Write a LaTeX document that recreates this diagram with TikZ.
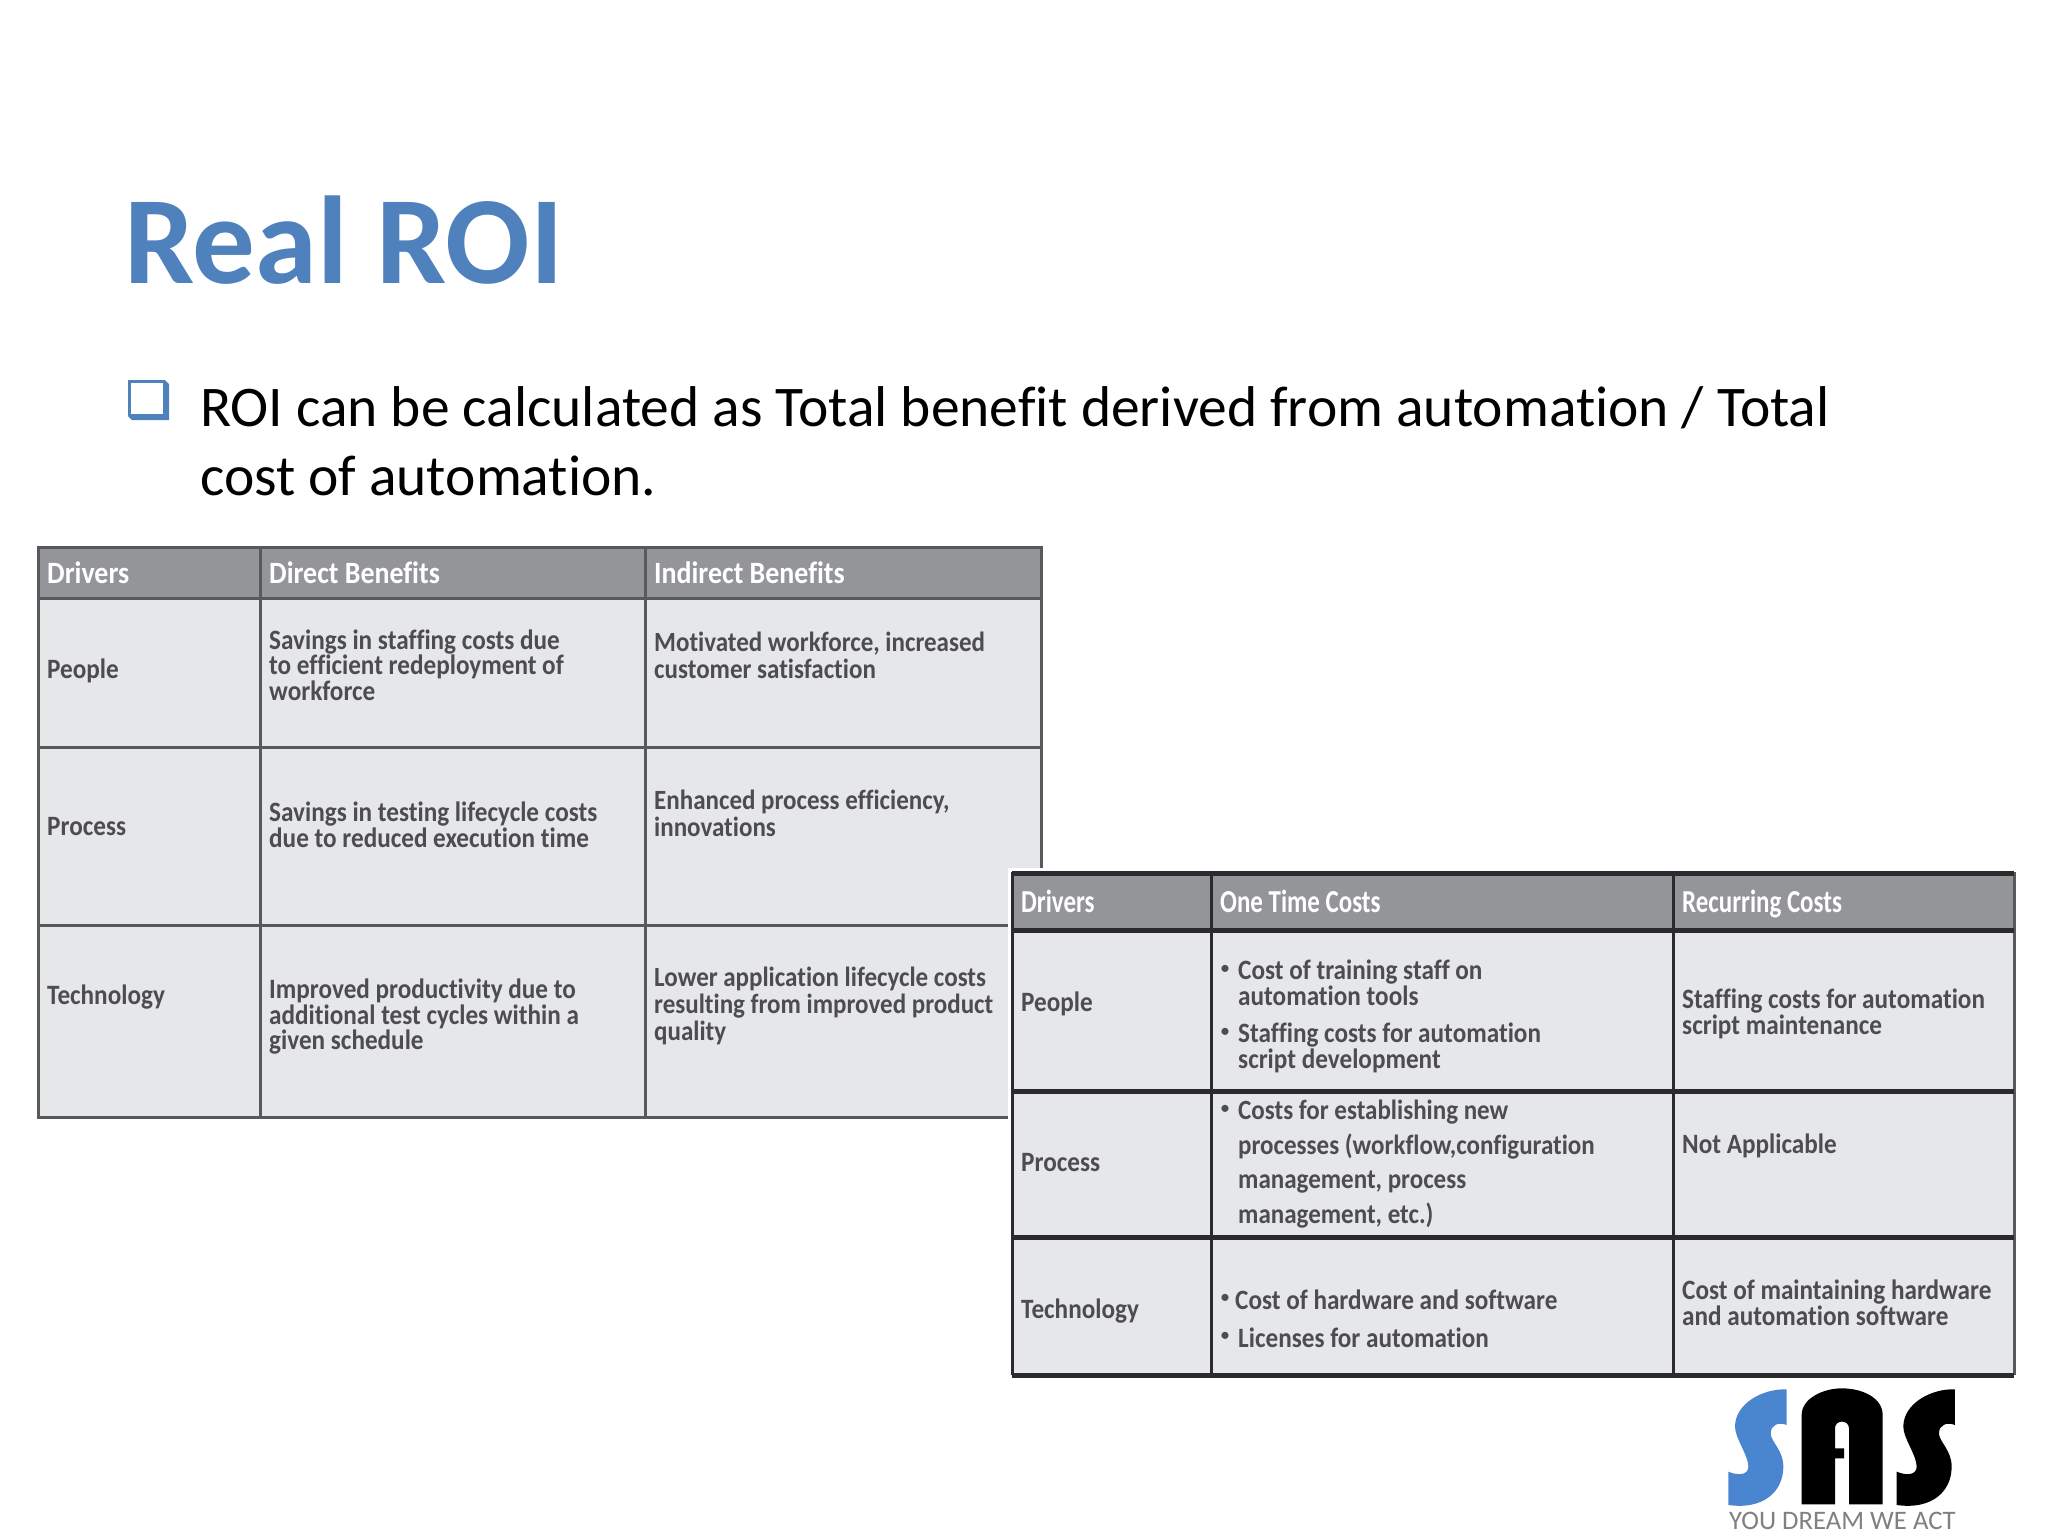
\documentclass[tikz,border=0pt]{standalone}
\usepackage{fontspec}
\setmainfont[RawFeature=-liga]{Carlito}
\newfontfamily\tabfont[FakeStretch=0.9,RawFeature=-liga]{Carlito}
\newfontfamily\tabnarrow[FakeStretch=0.78,RawFeature=-liga]{Carlito}
\definecolor{roiblue}{HTML}{4F81BD}
\definecolor{logoblue}{HTML}{4A86D0}
\definecolor{hdrfill}{HTML}{939598}
\definecolor{cellfill}{HTML}{E6E7E8}
\definecolor{celltext}{HTML}{4D4D4F}
\definecolor{gridone}{HTML}{58595B}
\definecolor{gridtwo}{HTML}{2B2B2D}
\newcommand{\logoS}[1]{\fill[#1] (260,58) .. controls (190,55) and (105,100) .. (105,170)
  .. controls (105,205) and (145,255) .. (145,290) .. controls (145,315) and (115,318) .. (85,305)
  -- (85,405) .. controls (190,420) and (250,365) .. (250,290) .. controls (250,240) and (212,215) .. (212,190)
  .. controls (212,165) and (235,155) .. (260,165) -- cycle;}
\tikzset{
  hdr/.style={anchor=base west,inner sep=0pt,text=white,font=\tabfont\bfseries\fontsize{31}{32}\selectfont},
  hdrn/.style={hdr,font=\tabnarrow\bfseries\fontsize{32}{33}\selectfont},
  cellA/.style={anchor=west,inner sep=0pt,align=left,text=celltext,font=\tabfont\bfseries\fontsize{28}{25.5}\selectfont},
  cellB/.style={cellA,font=\tabfont\bfseries\fontsize{27.8}{27}\selectfont},
  cellC/.style={cellA,font=\tabfont\bfseries\fontsize{27.8}{34.5}\selectfont},
  dotmark/.style={anchor=west,inner sep=0pt,text=celltext,font=\fontsize{20}{20}\selectfont},
  gridA/.style={draw=gridone,line width=3pt},
  gridB/.style={draw=gridtwo,line width=3pt},
  gridBh/.style={draw=gridtwo,line width=5pt},
}
\begin{document}
\begin{tikzpicture}[x=1pt,y=-1pt]
\useasboundingbox (0,0) rectangle (2048,1536);
\fill[white] (0,0) rectangle (2048,1536);
% title and bullet
\node[anchor=base west,inner sep=0pt,text=roiblue,font=\bfseries\fontsize{125}{125}\selectfont] (title) at (124,283) {Real ROI};
\fill[roiblue] (128,380) -- (165,380) -- (169,384) -- (169,420) -- (132,420) -- (128,416) -- cycle;
\fill[white] (131,383) rectangle (163,414);
\node[anchor=base west,inner sep=0pt,font=\fontsize{57.5}{69}\selectfont] (l1) at (200,426) {ROI can be calculated as Total benefit derived from automation / Total};
\node[anchor=base west,inner sep=0pt,font=\fontsize{57.5}{69}\selectfont] (l2) at (200,495) {cost of automation.};
% table one
\fill[cellfill] (38,547) rectangle (1041,1117);
\fill[hdrfill] (38,547) rectangle (1041,598);
\draw[gridA] (38,547) rectangle (1041,1117);
\draw[gridA] (38,598) -- (1041,598) (38,747) -- (1041,747) (38,925) -- (1041,925);
\draw[gridA] (260,547) -- (260,1117) (645,547) -- (645,1117);
\node[hdr] (a1) at (47,583) {Drivers};
\node[hdr] (a2) at (269,583) {Direct Benefits};
\node[hdr] (a3) at (654,583) {Indirect Benefits};
\node[cellA] (a4) at (47,671) {People};
\node[cellA] (a5) at (269,665) {Savings in staffing costs due\\to efficient redeployment of\\workforce};
\node[cellB] (a6) at (654,655) {Motivated workforce, increased\\customer satisfaction};
\node[cellA] (a7) at (47,827) {Process};
\node[cellA] (a8) at (269,825) {Savings in testing lifecycle costs\\due to reduced execution time};
\node[cellB] (a9) at (654,813) {Enhanced process efficiency,\\innovations};
\node[cellA] (a10) at (47,997) {Technology};
\node[cellA] (a11) at (269,1017) {Improved productivity due to\\additional test cycles within a\\given schedule};
\node[cellB] (a12) at (654,1006) {Lower application lifecycle costs\\resulting from improved product\\quality};
% table two
\fill[white] (1008,868) rectangle (2014,1380);
\fill[cellfill] (1012,872) rectangle (2014,1375);
\fill[hdrfill] (1012,872) rectangle (2014,930);
\draw[gridB] (1012,872) -- (1012,1375) (1211,872) -- (1211,1375) (1673,872) -- (1673,1375);
\draw[gridone,line width=3pt] (2014,872) -- (2014,1375);
\draw[gridBh] (1012,873) -- (2014,873) (1012,930) -- (2014,930) (1012,1091) -- (2014,1091) (1012,1237) -- (2014,1237) (1012,1375) -- (2014,1375);
\node[hdrn] (b1) at (1021,912) {Drivers};
\node[hdrn] (b2) at (1220,912) {One Time Costs};
\node[hdrn] (b3) at (1682,912) {Recurring Costs};
\node[cellA] (b4) at (1021,1004) {People};
\node[dotmark] (b5a) at (1220,970) {•};
\node[cellA] (b5) at (1238,983) {Cost of training staff on\\automation tools};
\node[dotmark] (b6a) at (1220,1033) {•};
\node[cellA] (b6) at (1238,1048) {Staffing costs for automation\\script development};
\node[cellA] (b7) at (1682,1014) {Staffing costs for automation\\script maintenance};
\node[cellA] (b8) at (1021,1163) {Process};
\node[dotmark] (b9a) at (1220,1110) {•};
\node[cellC] (b9) at (1238,1164) {Costs for establishing new\\processes (workflow,configuration\\management, process\\management, etc.)};
\node[cellA] (b10) at (1682,1146) {Not Applicable};
\node[cellA] (b11) at (1021,1311) {Technology};
\node[dotmark] (b12a) at (1220,1299) {•};
\node[cellA] (b12) at (1235,1300) {Cost of hardware and software};
\node[dotmark] (b13a) at (1220,1337) {•};
\node[cellA] (b13) at (1238,1338) {Licenses for automation};
\node[cellA] (b14) at (1682,1303) {Cost of maintaining hardware\\and automation software};
% logo
\begin{scope}[shift={(1700,1370)},x=0.3333pt,y=-0.3333pt]
\logoS{logoblue}
\fill[black,even odd rule] (305,403) -- (305,135) .. controls (305,85) and (370,55) .. (425,55)
  .. controls (490,55) and (548,85) .. (548,135) -- (548,403) -- (447,403) -- (447,175)
  .. controls (447,148) and (405,148) .. (405,175) -- (405,235) -- (432,235) -- (432,265) -- (405,265) -- (405,403) -- cycle;
\begin{scope}[shift={(505,0)}]
\logoS{black}
\end{scope}
\end{scope}
\node[anchor=base west,inner sep=0pt,text=black!50,font=\fontsize{26.7}{26.7}\selectfont] (tag) at (1729,1529) {YOU DREAM WE ACT};
\end{tikzpicture}
\end{document}
